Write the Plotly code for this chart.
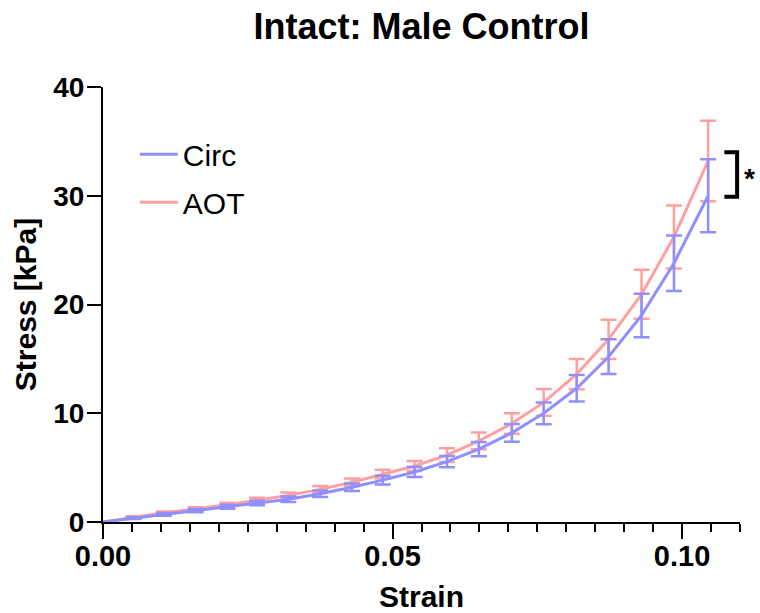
import plotly.graph_objects as go

strain = [0, 0.0053, 0.0105, 0.0160, 0.0215, 0.0266, 0.0320, 0.0375, 0.0430, 0.0483,
          0.0538, 0.0594, 0.0649, 0.0706, 0.0761, 0.0818, 0.0873, 0.0930, 0.0986, 0.1045]
circ_mean = [0, 0.35, 0.7, 1.05, 1.4, 1.75, 2.1, 2.6, 3.2, 3.85,
             4.6, 5.55, 6.7, 8.2, 10.0, 12.3, 15.2, 19.0, 23.8, 30.0]
circ_err = [0, 0.08, 0.12, 0.15, 0.18, 0.2, 0.25, 0.3, 0.35, 0.4,
            0.46, 0.52, 0.66, 0.82, 1.0, 1.22, 1.6, 2.0, 2.55, 3.35]
aot_mean = [0, 0.45, 0.85, 1.2, 1.6, 2.0, 2.45, 3.0, 3.65, 4.4,
            5.15, 6.15, 7.45, 9.05, 11.0, 13.6, 16.8, 20.95, 26.2, 33.2]
aot_err = [0, 0.08, 0.12, 0.15, 0.18, 0.22, 0.27, 0.3, 0.35, 0.4,
           0.45, 0.63, 0.77, 0.94, 1.22, 1.4, 1.8, 2.25, 2.9, 3.7]

x_ticks = [0, 0.05, 0.10]
x_ticklabels = ["0.00", "0.05", "0.10"]
y_ticks = [0, 10, 20, 30, 40]

sig_bracket_y = (29.9, 34.0)
sig_bracket_x = (0.1073, 0.1095)

BLUE = "#8f8fff"
PINK = "#ffa0a0"
FONT = "Liberation Sans"

fig = go.Figure()
fig.add_trace(go.Scatter(
    x=strain, y=aot_mean, mode="lines", name="AOT", legendgroup="aot",
    line=dict(color=PINK, width=3),
    error_y=dict(type="data", array=aot_err, width=8, thickness=2.5, color=PINK),
    legendrank=2,
))
fig.add_trace(go.Scatter(
    x=strain, y=circ_mean, mode="lines", name="Circ", legendgroup="circ",
    line=dict(color=BLUE, width=3),
    error_y=dict(type="data", array=circ_err, width=8, thickness=2.5, color=BLUE),
    legendrank=1,
))

x0, x1 = sig_bracket_x
y0, y1 = sig_bracket_y
fig.add_shape(type="path", xref="x", yref="y",
              path=f"M {x0} {y1} L {x1} {y1} L {x1} {y0} L {x0} {y0}",
              line=dict(color="black", width=4))
fig.add_annotation(x=x1, y=(y0 + y1) / 2, xref="x", yref="y", text="<b>*</b>",
                   showarrow=False, xanchor="left", xshift=5, yshift=-4,
                   font=dict(family=FONT, size=28, color="black"))

fig.update_layout(
    width=760, height=613,
    margin=dict(l=103, r=20, t=87, b=91, autoexpand=False),
    paper_bgcolor="white", plot_bgcolor="white",
    title=dict(text="<b>Intact: Male Control</b>", x=0.5, xref="paper", xanchor="center",
               y=0.978, yanchor="top",
               font=dict(family=FONT, size=36, color="black")),
    font=dict(family=FONT, color="black"),
    showlegend=True,
    legend=dict(x=0.05, y=0.905, xanchor="left", yanchor="top",
                font=dict(family=FONT, size=30, color="black"),
                bgcolor="rgba(0,0,0,0)", itemwidth=38, tracegroupgap=6),
)
fig.update_xaxes(
    range=[0, 0.11], tickvals=x_ticks, ticktext=[f"<b>{t}</b>" for t in x_ticklabels],
    showline=True, linecolor="black", linewidth=2, showgrid=False, zeroline=False,
    ticks="outside", ticklen=15, tickwidth=2, tickcolor="black", ticklabelstandoff=-8,
    tickfont=dict(family=FONT, size=29, color="black"), automargin=False,
    minor=dict(dtick=0.005, tick0=0, ticks="outside", ticklen=8, tickwidth=2, tickcolor="black"),
    title=dict(text="<b>Strain</b>", font=dict(family=FONT, size=30, color="black"), standoff=22),
)
fig.update_yaxes(
    range=[0, 40], tickvals=y_ticks, ticktext=[f"<b>{v}</b>" for v in y_ticks],
    showline=True, linecolor="black", linewidth=2, showgrid=False, zeroline=False,
    ticks="outside", ticklen=14, tickwidth=2, tickcolor="black", ticklabelstandoff=-3,
    tickfont=dict(family=FONT, size=28, color="black"), automargin=False,
    title=dict(text="<b>Stress [kPa]</b>", font=dict(family=FONT, size=30, color="black"), standoff=8),
)

fig.write_html("out.html")
